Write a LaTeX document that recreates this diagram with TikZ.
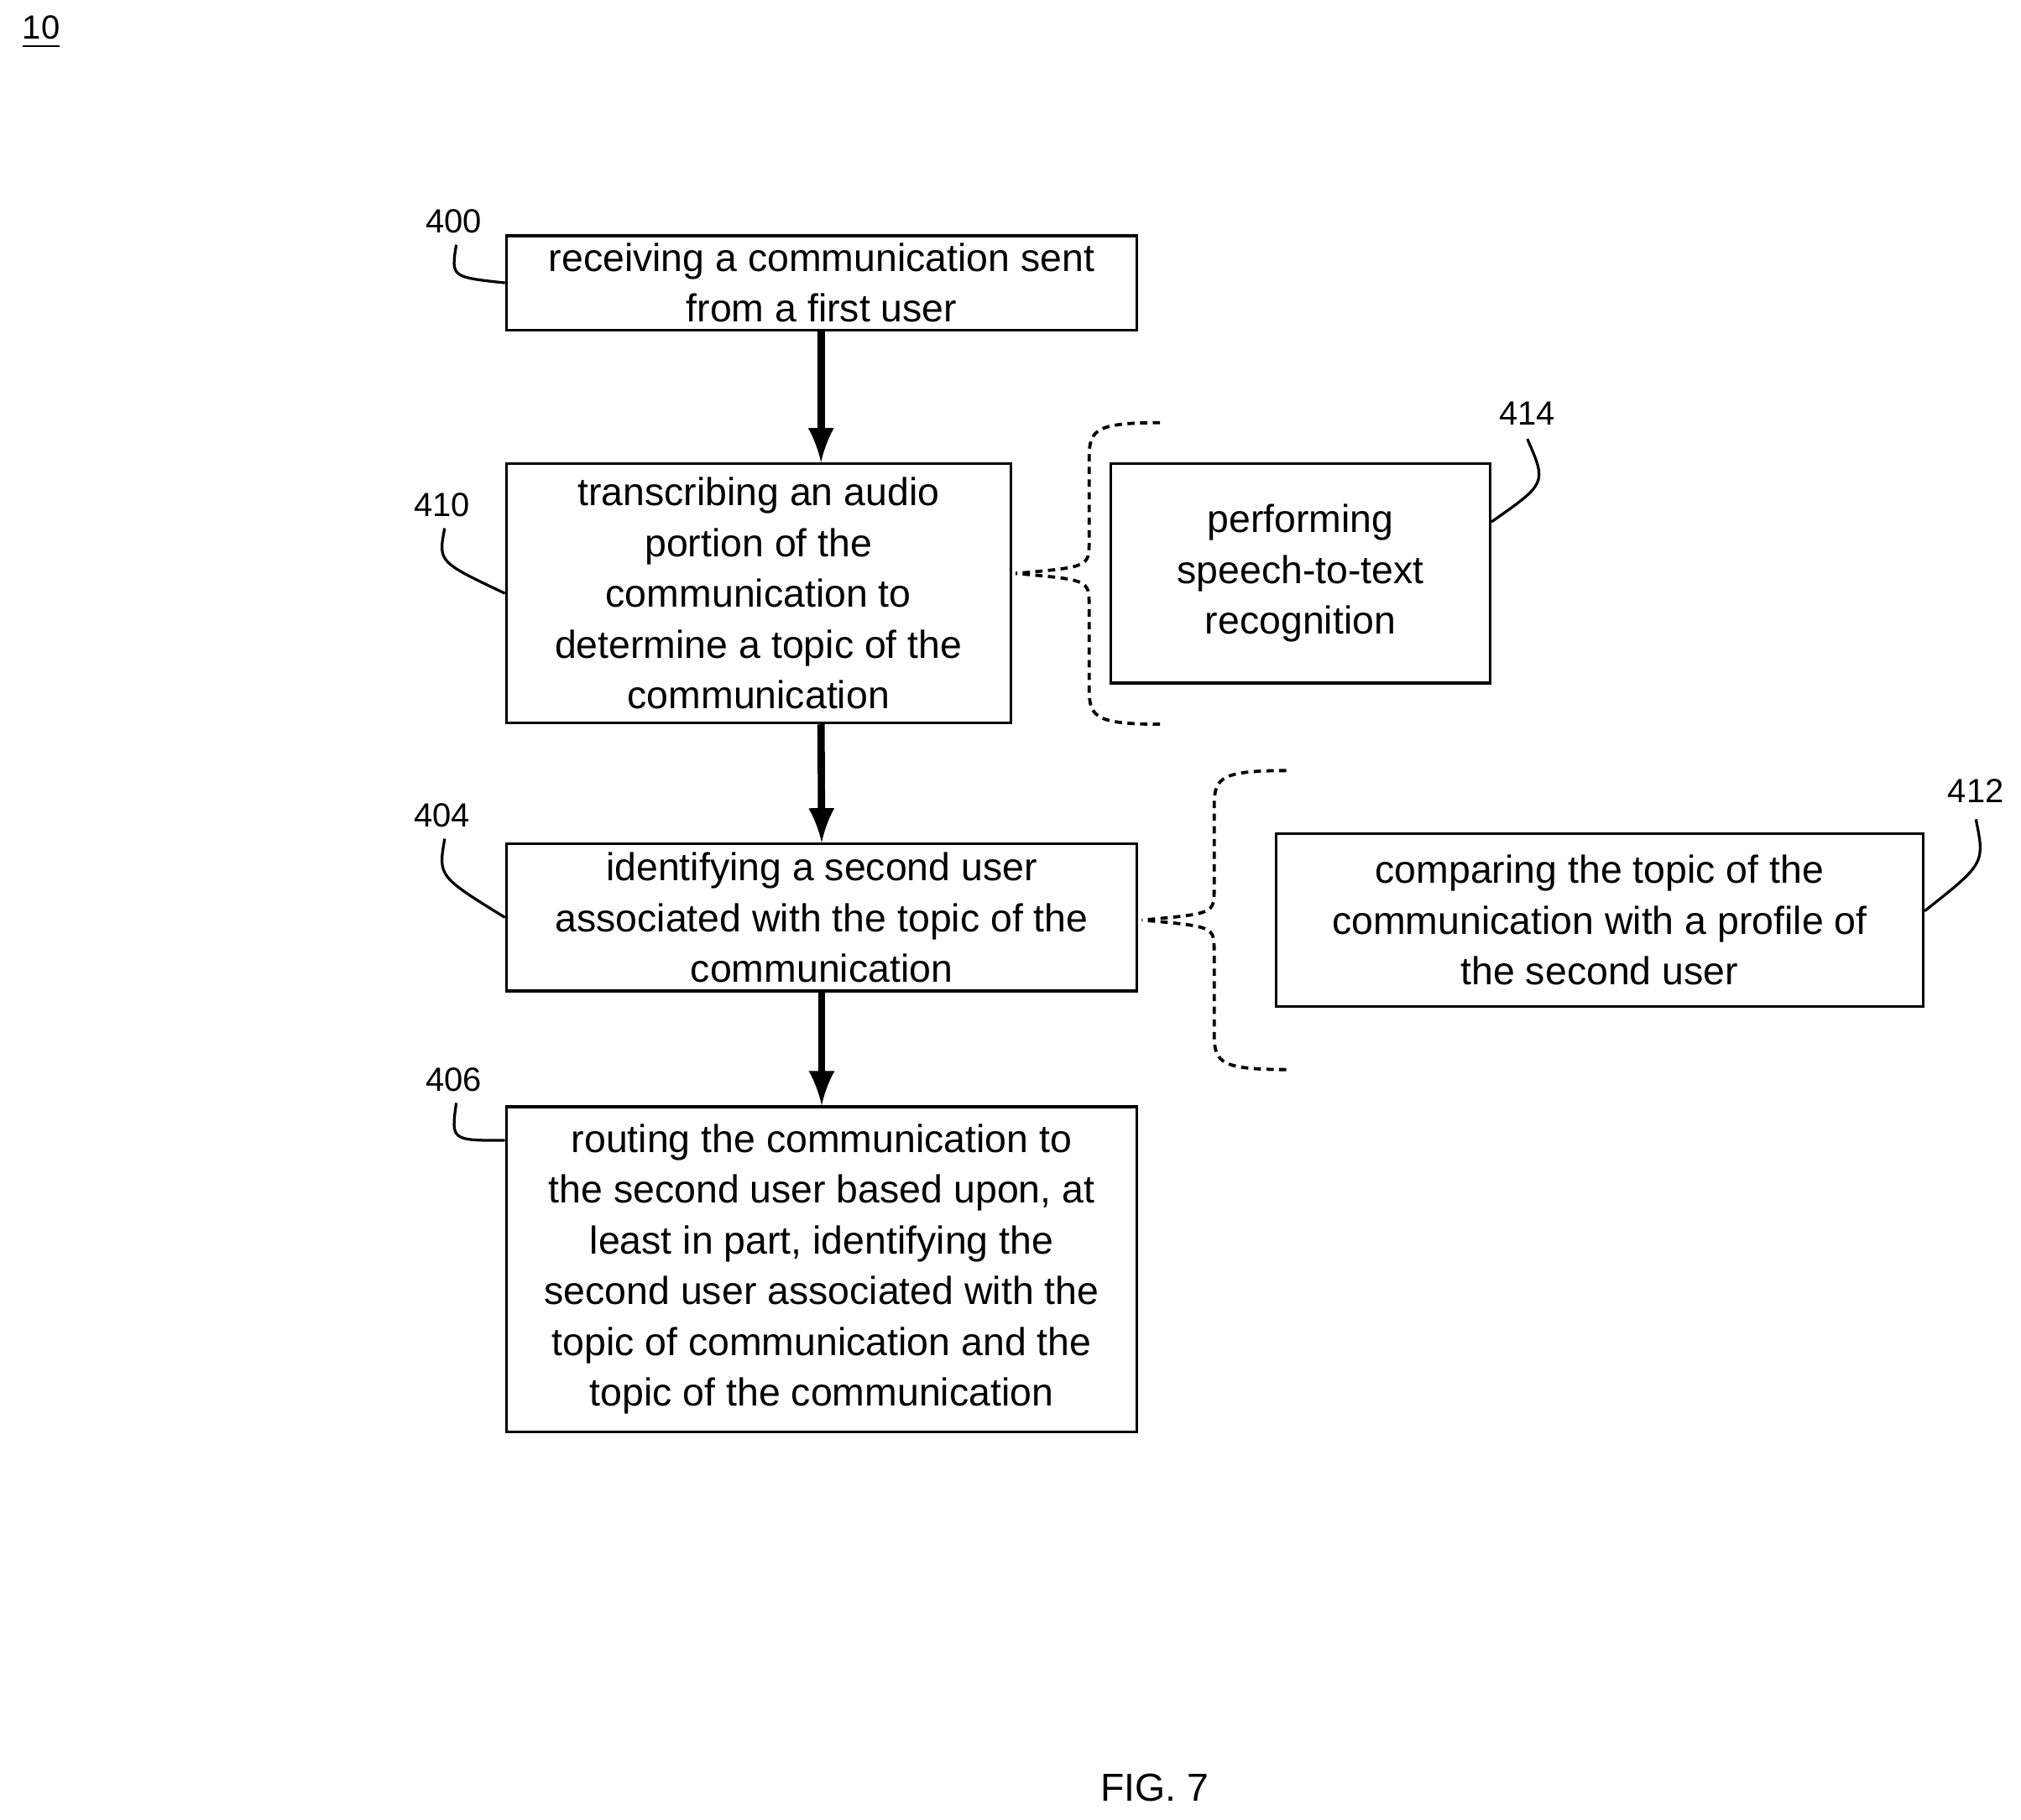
\documentclass[tikz,border=0pt]{standalone}
\usepackage{fontspec}
\setmainfont{Liberation Sans}
\usetikzlibrary{calc}
\tikzset{
    stepbox/.style = {draw, line width=0.6pt, align=center, inner sep=0pt,
        font=\fontsize{8.6}{11.2}\selectfont},
    flow/.style = {-latex, line width=1.6pt},
    brace/.style = {line width=0.7pt, dash pattern=on 1.6pt off 1.2pt},
    lead/.style = {line width=0.6pt},
    tag/.style = {font=\fontsize{7.4}{9}\selectfont, inner sep=0pt},
}
\begin{document}
\begin{tikzpicture}[x=0.01cm, y=-0.01cm]
\useasboundingbox (0,0) rectangle (1568,1412);

\node[tag] (fig) at (32,25) {\underline{10}};
\node[font=\fontsize{8.6}{10}\selectfont, inner sep=0pt] (cap) at (896,1387) {FIG. 7};

% main steps
\node[stepbox, minimum width=4.89cm, minimum height=0.73cm] (s400) at (637.5,219.5)
    {receiving a communication sent\\from a first user};
\node[stepbox, minimum width=3.91cm, minimum height=2.01cm] (s410) at (588.5,460.5)
    {transcribing an audio\\portion of the\\communication to\\determine a topic of the\\communication};
\node[stepbox, minimum width=4.89cm, minimum height=1.14cm] (s404) at (637.5,712)
    {identifying a second user\\associated with the topic of the\\communication};
\node[stepbox, minimum width=4.89cm, minimum height=2.52cm] (s406) at (637.5,985)
    {routing the communication to\\the second user based upon, at\\least in part, identifying the\\second user associated with the\\topic of communication and the\\topic of the communication};

% sub steps
\node[stepbox, minimum width=2.94cm, minimum height=1.70cm] (s414) at (1009,445)
    {performing\\speech-to-text\\recognition};
\node[stepbox, minimum width=5.02cm, minimum height=1.34cm] (s412) at (1241,714)
    {comparing the topic of the\\communication with a profile of\\the second user};

\draw[flow] (s400.south -| 637,0) -- (s410.north -| 637,0);
\draw[flow] (s410.south -| 637,0) -- (s404.north);
\draw[flow] (s404.south) -- (s406.north);

% dashed braces
\coordinate (b1) at (788,445);
\draw[brace] (900,328) .. controls (845,328) and (845,335) .. (845,360)
    -- (845,420) .. controls (845,440) .. (b1);
\draw[brace] (900,562) .. controls (845,562) and (845,555) .. (845,530)
    -- (845,470) .. controls (845,450) .. (b1);
\coordinate (b2) at (886,714);
\draw[brace] (998,598) .. controls (942,598) and (942,605) .. (942,630)
    -- (942,690) .. controls (942,709) .. (b2);
\draw[brace] (998,830) .. controls (942,830) and (942,823) .. (942,798)
    -- (942,738) .. controls (942,719) .. (b2);

% reference numerals
\node[tag] (n400) at (352,172) {400};
\draw[lead] (n400.south) ++(2,8) .. controls (350,215) .. (s400.west);
\node[tag] (n410) at (343,392) {410};
\draw[lead] (n410.south) ++(2,8) .. controls (340,436) .. (s410.west);
\node[tag] (n404) at (343,633) {404};
\draw[lead] (n404.south) ++(2,8) .. controls (340,680) .. (s404.west);
\node[tag] (n406) at (352,838) {406};
\draw[lead] (n406.south) ++(2,8) .. controls (350,885) .. (s406.north west |- 0,885);
\node[tag] (n414) at (1185,321) {414};
\draw[lead] (n414.south) ++(0,10) .. controls (1200,375) .. (s414.north east |- 0,405);
\node[tag] (n412) at (1533,614) {412};
\draw[lead] (n412.south) ++(0,12) .. controls (1540,670) .. (s412.north east |- 0,707);
\end{tikzpicture}
\end{document}
